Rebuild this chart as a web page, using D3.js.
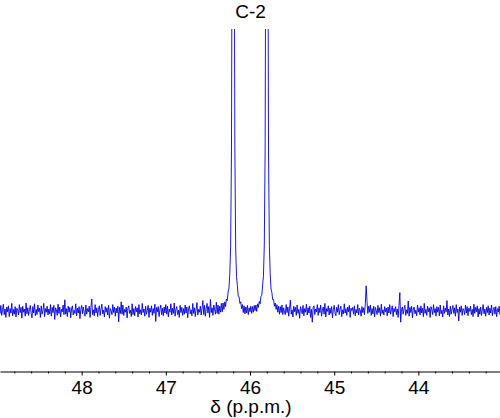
<html>
<head>
<meta charset="utf-8">
<script src="https://d3js.org/d3.v7.min.js"></script>
<style>
body { margin: 0; background: #fff; }
text { font-family: Arial, "Liberation Sans", sans-serif; fill: #000; }
</style>
</head>
<body>
<svg width="500" height="418"></svg>
<script>
// chemical shift (ppm) of each sample
const shifts = [
  48.98,48.97,48.96,48.95,48.94,48.93,48.92,48.91,48.90,48.89,48.88,48.87,48.86,48.85,48.84,48.83,48.82,48.81,48.80,48.79,
  48.78,48.77,48.76,48.75,48.74,48.73,48.72,48.71,48.70,48.69,48.68,48.67,48.66,48.65,48.64,48.63,48.62,48.61,48.60,48.59,
  48.58,48.57,48.56,48.55,48.54,48.53,48.52,48.51,48.50,48.49,48.48,48.47,48.46,48.45,48.44,48.43,48.42,48.41,48.40,48.39,
  48.38,48.37,48.36,48.35,48.34,48.33,48.32,48.31,48.30,48.29,48.28,48.27,48.26,48.25,48.24,48.23,48.22,48.21,48.20,48.19,
  48.18,48.17,48.16,48.15,48.14,48.13,48.12,48.11,48.10,48.09,48.08,48.07,48.06,48.05,48.04,48.03,48.02,48.01,48.00,47.99,
  47.98,47.97,47.96,47.95,47.94,47.93,47.92,47.91,47.90,47.89,47.88,47.87,47.86,47.85,47.84,47.83,47.82,47.81,47.80,47.79,
  47.78,47.77,47.76,47.75,47.74,47.73,47.72,47.71,47.70,47.69,47.68,47.67,47.66,47.65,47.64,47.63,47.62,47.61,47.60,47.59,
  47.58,47.57,47.56,47.55,47.54,47.53,47.52,47.51,47.50,47.49,47.48,47.47,47.46,47.45,47.44,47.43,47.42,47.41,47.40,47.39,
  47.38,47.37,47.36,47.35,47.34,47.33,47.32,47.31,47.30,47.29,47.28,47.27,47.26,47.25,47.24,47.23,47.22,47.21,47.20,47.19,
  47.18,47.17,47.16,47.15,47.14,47.13,47.12,47.11,47.10,47.09,47.08,47.07,47.06,47.05,47.04,47.03,47.02,47.01,47.00,46.99,
  46.98,46.97,46.96,46.95,46.94,46.93,46.92,46.91,46.90,46.89,46.88,46.87,46.86,46.85,46.84,46.83,46.82,46.81,46.80,46.79,
  46.78,46.77,46.76,46.75,46.74,46.73,46.72,46.71,46.70,46.69,46.68,46.67,46.66,46.65,46.64,46.63,46.62,46.61,46.60,46.59,
  46.58,46.57,46.56,46.55,46.54,46.53,46.52,46.51,46.50,46.49,46.48,46.47,46.46,46.45,46.44,46.43,46.42,46.41,46.40,46.39,
  46.38,46.37,46.36,46.35,46.34,46.33,46.32,46.31,46.30,46.29,46.28,46.27,46.26,46.25,46.24,46.23,46.22,46.21,46.20,46.19,
  46.18,46.17,46.16,46.15,46.14,46.13,46.12,46.11,46.10,46.09,46.08,46.07,46.06,46.05,46.04,46.03,46.02,46.01,46.00,45.99,
  45.98,45.97,45.96,45.95,45.94,45.93,45.92,45.91,45.90,45.89,45.88,45.87,45.86,45.85,45.84,45.83,45.82,45.81,45.80,45.79,
  45.78,45.77,45.76,45.75,45.74,45.73,45.72,45.71,45.70,45.69,45.68,45.67,45.66,45.65,45.64,45.63,45.62,45.61,45.60,45.59,
  45.58,45.57,45.56,45.55,45.54,45.53,45.52,45.51,45.50,45.49,45.48,45.47,45.46,45.45,45.44,45.43,45.42,45.41,45.40,45.39,
  45.38,45.37,45.36,45.35,45.34,45.33,45.32,45.31,45.30,45.29,45.28,45.27,45.26,45.25,45.24,45.23,45.22,45.21,45.20,45.19,
  45.18,45.17,45.16,45.15,45.14,45.13,45.12,45.11,45.10,45.09,45.08,45.07,45.06,45.05,45.04,45.03,45.02,45.01,45.00,44.99,
  44.98,44.97,44.96,44.95,44.94,44.93,44.92,44.91,44.90,44.89,44.88,44.87,44.86,44.85,44.84,44.83,44.82,44.81,44.80,44.79,
  44.78,44.77,44.76,44.75,44.74,44.73,44.72,44.71,44.70,44.69,44.68,44.67,44.66,44.65,44.64,44.63,44.62,44.61,44.60,44.59,
  44.58,44.57,44.56,44.55,44.54,44.53,44.52,44.51,44.50,44.49,44.48,44.47,44.46,44.45,44.44,44.43,44.42,44.41,44.40,44.39,
  44.38,44.37,44.36,44.35,44.34,44.33,44.32,44.31,44.30,44.29,44.28,44.27,44.26,44.25,44.24,44.23,44.22,44.21,44.20,44.19,
  44.18,44.17,44.16,44.15,44.14,44.13,44.12,44.11,44.10,44.09,44.08,44.07,44.06,44.05,44.04,44.03,44.02,44.01,44.00,43.99,
  43.98,43.97,43.96,43.95,43.94,43.93,43.92,43.91,43.90,43.89,43.88,43.87,43.86,43.85,43.84,43.83,43.82,43.81,43.80,43.79,
  43.78,43.77,43.76,43.75,43.74,43.73,43.72,43.71,43.70,43.69,43.68,43.67,43.66,43.65,43.64,43.63,43.62,43.61,43.60,43.59,
  43.58,43.57,43.56,43.55,43.54,43.53,43.52,43.51,43.50,43.49,43.48,43.47,43.46,43.45,43.44,43.43,43.42,43.41,43.40,43.39,
  43.38,43.37,43.36,43.35,43.34,43.33,43.32,43.31,43.30,43.29,43.28,43.27,43.26,43.25,43.24,43.23,43.22,43.21,43.20,43.19,
  43.18,43.17,43.16,43.15,43.14,43.13,43.12,43.11,43.10,43.09,43.08,43.07,43.06,43.05,43.04,43.03,43.02
];

// signal intensity (arbitrary units, baseline 0); the two C-2 lines run off scale
const intensity = [
  0.8,-0.6,1.4,-1.1,0.3,1.7,-0.9,0.5,-1.6,1.0,-0.2,1.3,-1.4,0.6,-0.5,1.9,-1.2,0.4,-0.8,1.1,
  -1.5,0.7,0.2,-1.0,1.6,-0.4,0.9,-1.8,1.2,-0.3,0.5,-1.3,2.0,-0.7,0.8,-1.1,0.3,1.4,-0.6,-1.7,
  1.1,-0.5,1.8,-1.2,0.4,-0.9,1.5,-0.2,0.7,-1.6,1.3,-0.8,0.1,1.9,-1.4,0.6,-0.3,1.2,-1.0,0.5,
  -0.7,1.6,-1.3,0.9,-0.4,1.4,-2.1,0.8,0.3,-1.1,1.7,-0.6,1.0,-1.5,0.4,-0.2,1.5,-0.9,2.8,-0.8,
  0.6,-1.4,1.2,-0.3,0.9,-1.7,0.5,1.3,-1.0,0.2,-0.6,1.8,-1.2,0.7,-0.5,1.1,-1.9,0.4,1.4,-0.7,
  1.0,-0.4,-1.3,1.5,-0.8,0.6,-0.2,1.2,-1.6,0.9,3.0,-0.9,0.3,-1.2,1.6,-0.5,0.8,-1.4,0.4,1.3,
  -1.1,0.5,1.7,-0.7,0.2,-1.5,1.1,-0.3,0.8,-1.0,1.4,-1.8,0.6,0.1,-0.9,1.6,-0.4,1.0,-1.3,0.7,
  -0.5,1.2,-2.7,0.9,-0.6,2.3,-0.8,1.5,-1.1,0.4,-0.3,1.0,-1.7,0.7,1.3,-0.6,0.2,-1.4,1.8,-0.9,
  0.6,-1.2,1.1,-0.2,0.8,-1.5,1.6,-0.7,0.3,-1.0,1.9,-0.4,0.5,-1.3,1.2,-0.8,0.1,1.4,-1.6,0.7,
  -0.3,1.3,-1.1,0.6,-0.6,1.7,-2.6,0.9,-0.2,1.1,-1.4,0.4,1.5,-0.9,0.7,-1.2,1.0,-0.5,1.6,-0.8,
  1.2,-1.5,0.5,-0.3,1.8,-1.0,0.7,-0.6,2.0,-1.3,0.4,1.1,-0.9,0.2,-1.6,1.4,-0.4,0.9,-1.1,0.6,
  -0.8,1.5,-0.5,1.0,-1.7,0.6,1.3,-0.7,0.3,-1.2,1.9,-0.6,0.8,-1.4,0.5,2.1,-1.0,0.4,-0.3,1.2,
  -1.0,0.7,2.6,-0.9,1.4,-1.3,0.6,1.9,-0.5,1.1,-1.6,2.9,-0.4,0.8,-1.1,1.5,0.3,-0.8,2.2,-0.6,
  1.5,-0.8,1.2,-0.3,1.9,-0.2,2.0,0.4,2.3,1.1,3.0,2.6,4.8,5.7,9.4,16,40,120,300,118,
  41,15.5,8.6,6.4,3.7,3.6,1.9,2.3,0.6,1.6,-0.4,1.3,-0.7,1.0,-0.5,1.4,-0.9,0.8,-0.2,1.2,
  -0.6,1.1,-0.3,1.4,0.1,1.5,-0.1,1.8,0.9,2.4,1.8,3.7,3.9,6.5,8.8,16.5,41,121,300,119,
  39.5,16.4,9.3,5.5,4.6,2.8,2.9,1.2,2.0,0.4,1.6,-0.3,1.2,-0.8,1.1,-0.4,1.5,-0.9,0.8,-0.3,
  -0.9,1.6,-0.4,1.0,-1.3,0.7,2.7,-0.8,0.3,-1.5,1.2,-0.2,0.9,-1.1,1.5,-0.6,0.4,-1.8,1.1,0.2,
  -0.7,1.4,-1.2,0.6,-0.3,1.7,-1.0,0.8,-0.5,1.2,-1.6,0.4,-2.8,0.9,1.3,-0.9,0.5,-0.2,1.6,-1.1,
  0.8,-0.4,1.5,-1.3,0.2,1.0,-0.8,1.9,-1.5,0.6,-0.1,1.3,-1.0,0.7,-0.6,1.1,-1.7,0.4,1.4,-0.5,
  -1.2,0.9,-0.3,1.6,-0.9,0.5,1.2,-1.4,0.3,-0.7,1.8,-0.5,0.6,-1.1,1.0,-0.2,1.4,-1.6,0.7,0.1,
  0.9,-0.8,1.3,-1.2,0.4,-0.5,1.6,-1.0,0.7,0.2,-1.3,1.1,-0.4,0.8,-0.9,1.8,6.3,2.4,-0.6,1.2,
  -0.3,1.5,-1.1,0.6,-0.7,1.2,-1.5,0.9,0.1,-0.9,1.4,-0.4,0.8,-1.3,1.7,-0.6,0.3,-1.0,1.1,-0.2,
  0.7,-1.2,1.0,-0.5,1.6,-0.8,0.3,1.3,-1.4,0.6,-0.2,1.1,-0.9,0.5,-1.6,1.4,4.6,-2.8,0.4,1.0,
  -0.8,0.6,1.4,-1.1,0.3,-0.6,2.5,-1.3,0.9,-0.4,1.2,-1.7,0.5,1.0,-0.7,0.2,-1.2,1.5,-0.3,0.8,
  -1.0,1.3,-0.5,0.7,-1.4,1.9,-0.6,0.4,-1.1,1.2,-0.2,0.8,-1.6,1.1,0.3,-0.9,1.6,-0.4,0.6,-1.3,
  1.1,-0.3,0.9,-1.2,1.5,-0.7,0.2,-1.5,1.3,-0.6,0.7,-0.2,2.6,-1.0,0.5,-1.4,1.2,-0.8,0.4,1.4,
  -0.6,0.8,-1.3,1.6,-0.4,0.5,-2.5,1.0,-0.3,1.3,-1.1,0.6,0.2,-0.9,1.5,-0.5,1.1,-1.2,0.7,-0.1,
  1.2,-0.9,0.4,-1.4,1.7,-0.6,0.9,-0.2,1.3,-1.5,0.6,-0.8,1.0,-1.1,0.3,1.6,-0.7,0.5,-1.3,0.9,
  -0.4,1.3,-1.0,0.7,-0.5,1.5,-1.2,0.3,0.9,-0.8,1.1,-1.4,0.6,-0.3,1.2,-0.9,0.5
];

const majorTicks = [48, 47, 46, 45, 44];
const minorTicks = [48.8, 48.6, 48.4, 48.2, 47.8, 47.6, 47.4, 47.2, 46.8, 46.6, 46.4, 46.2,
                    45.8, 45.6, 45.4, 45.2, 44.8, 44.6, 44.4, 44.2, 43.8, 43.6, 43.4, 43.2];
const peakLabel = "C-2";
const peakLabelShift = 46.0;
const axisTitle = "\u03b4 (p.p.m.)";

var svg = d3.select("svg");

// reversed ppm axis, as usual for NMR
var x = d3.scaleLinear().domain([48.97, 43.03]).range([0, 500]);
var y = d3.scaleLinear().domain([-15, 71]).range([371, 27]);

svg.append("rect").attr("width", 500).attr("height", 418).attr("fill", "#fff");

svg.append("clipPath").attr("id", "plotclip")
  .append("rect").attr("x", 0).attr("y", 29).attr("width", 500).attr("height", 342);

var points = d3.zip(shifts, intensity);

var line = d3.line()
  .x(function(d) { return x(d[0]); })
  .y(function(d) { return y(d[1]); });

svg.append("path")
  .datum(points)
  .attr("clip-path", "url(#plotclip)")
  .attr("fill", "none")
  .attr("stroke", "#0000dd")
  .attr("stroke-width", 0.9)
  .attr("stroke-linejoin", "round")
  .attr("d", line);

// minor ticks
svg.append("g")
  .attr("transform", "translate(0,371.5)")
  .call(d3.axisBottom(x).tickValues(minorTicks).tickSize(2).tickSizeOuter(0).tickFormat(""))
  .call(function(g) { g.select(".domain").remove(); });

// major ticks + axis line
var gx = svg.append("g")
  .attr("transform", "translate(0,371.5)")
  .call(d3.axisBottom(x).tickValues(majorTicks).tickSize(4).tickSizeOuter(0).tickPadding(5).tickFormat(d3.format("d")));

gx.selectAll("text").style("font-size", "19px").attr("font-family", null);
gx.select(".domain").attr("stroke", "#000");

svg.append("text")
  .attr("x", 251)
  .attr("y", 413)
  .attr("text-anchor", "middle")
  .style("font-size", "19px")
  .text(axisTitle);

svg.append("text")
  .attr("x", x(peakLabelShift) + 0.5)
  .attr("y", 18)
  .attr("text-anchor", "middle")
  .style("font-size", "19px")
  .text(peakLabel);
</script>
</body>
</html>
